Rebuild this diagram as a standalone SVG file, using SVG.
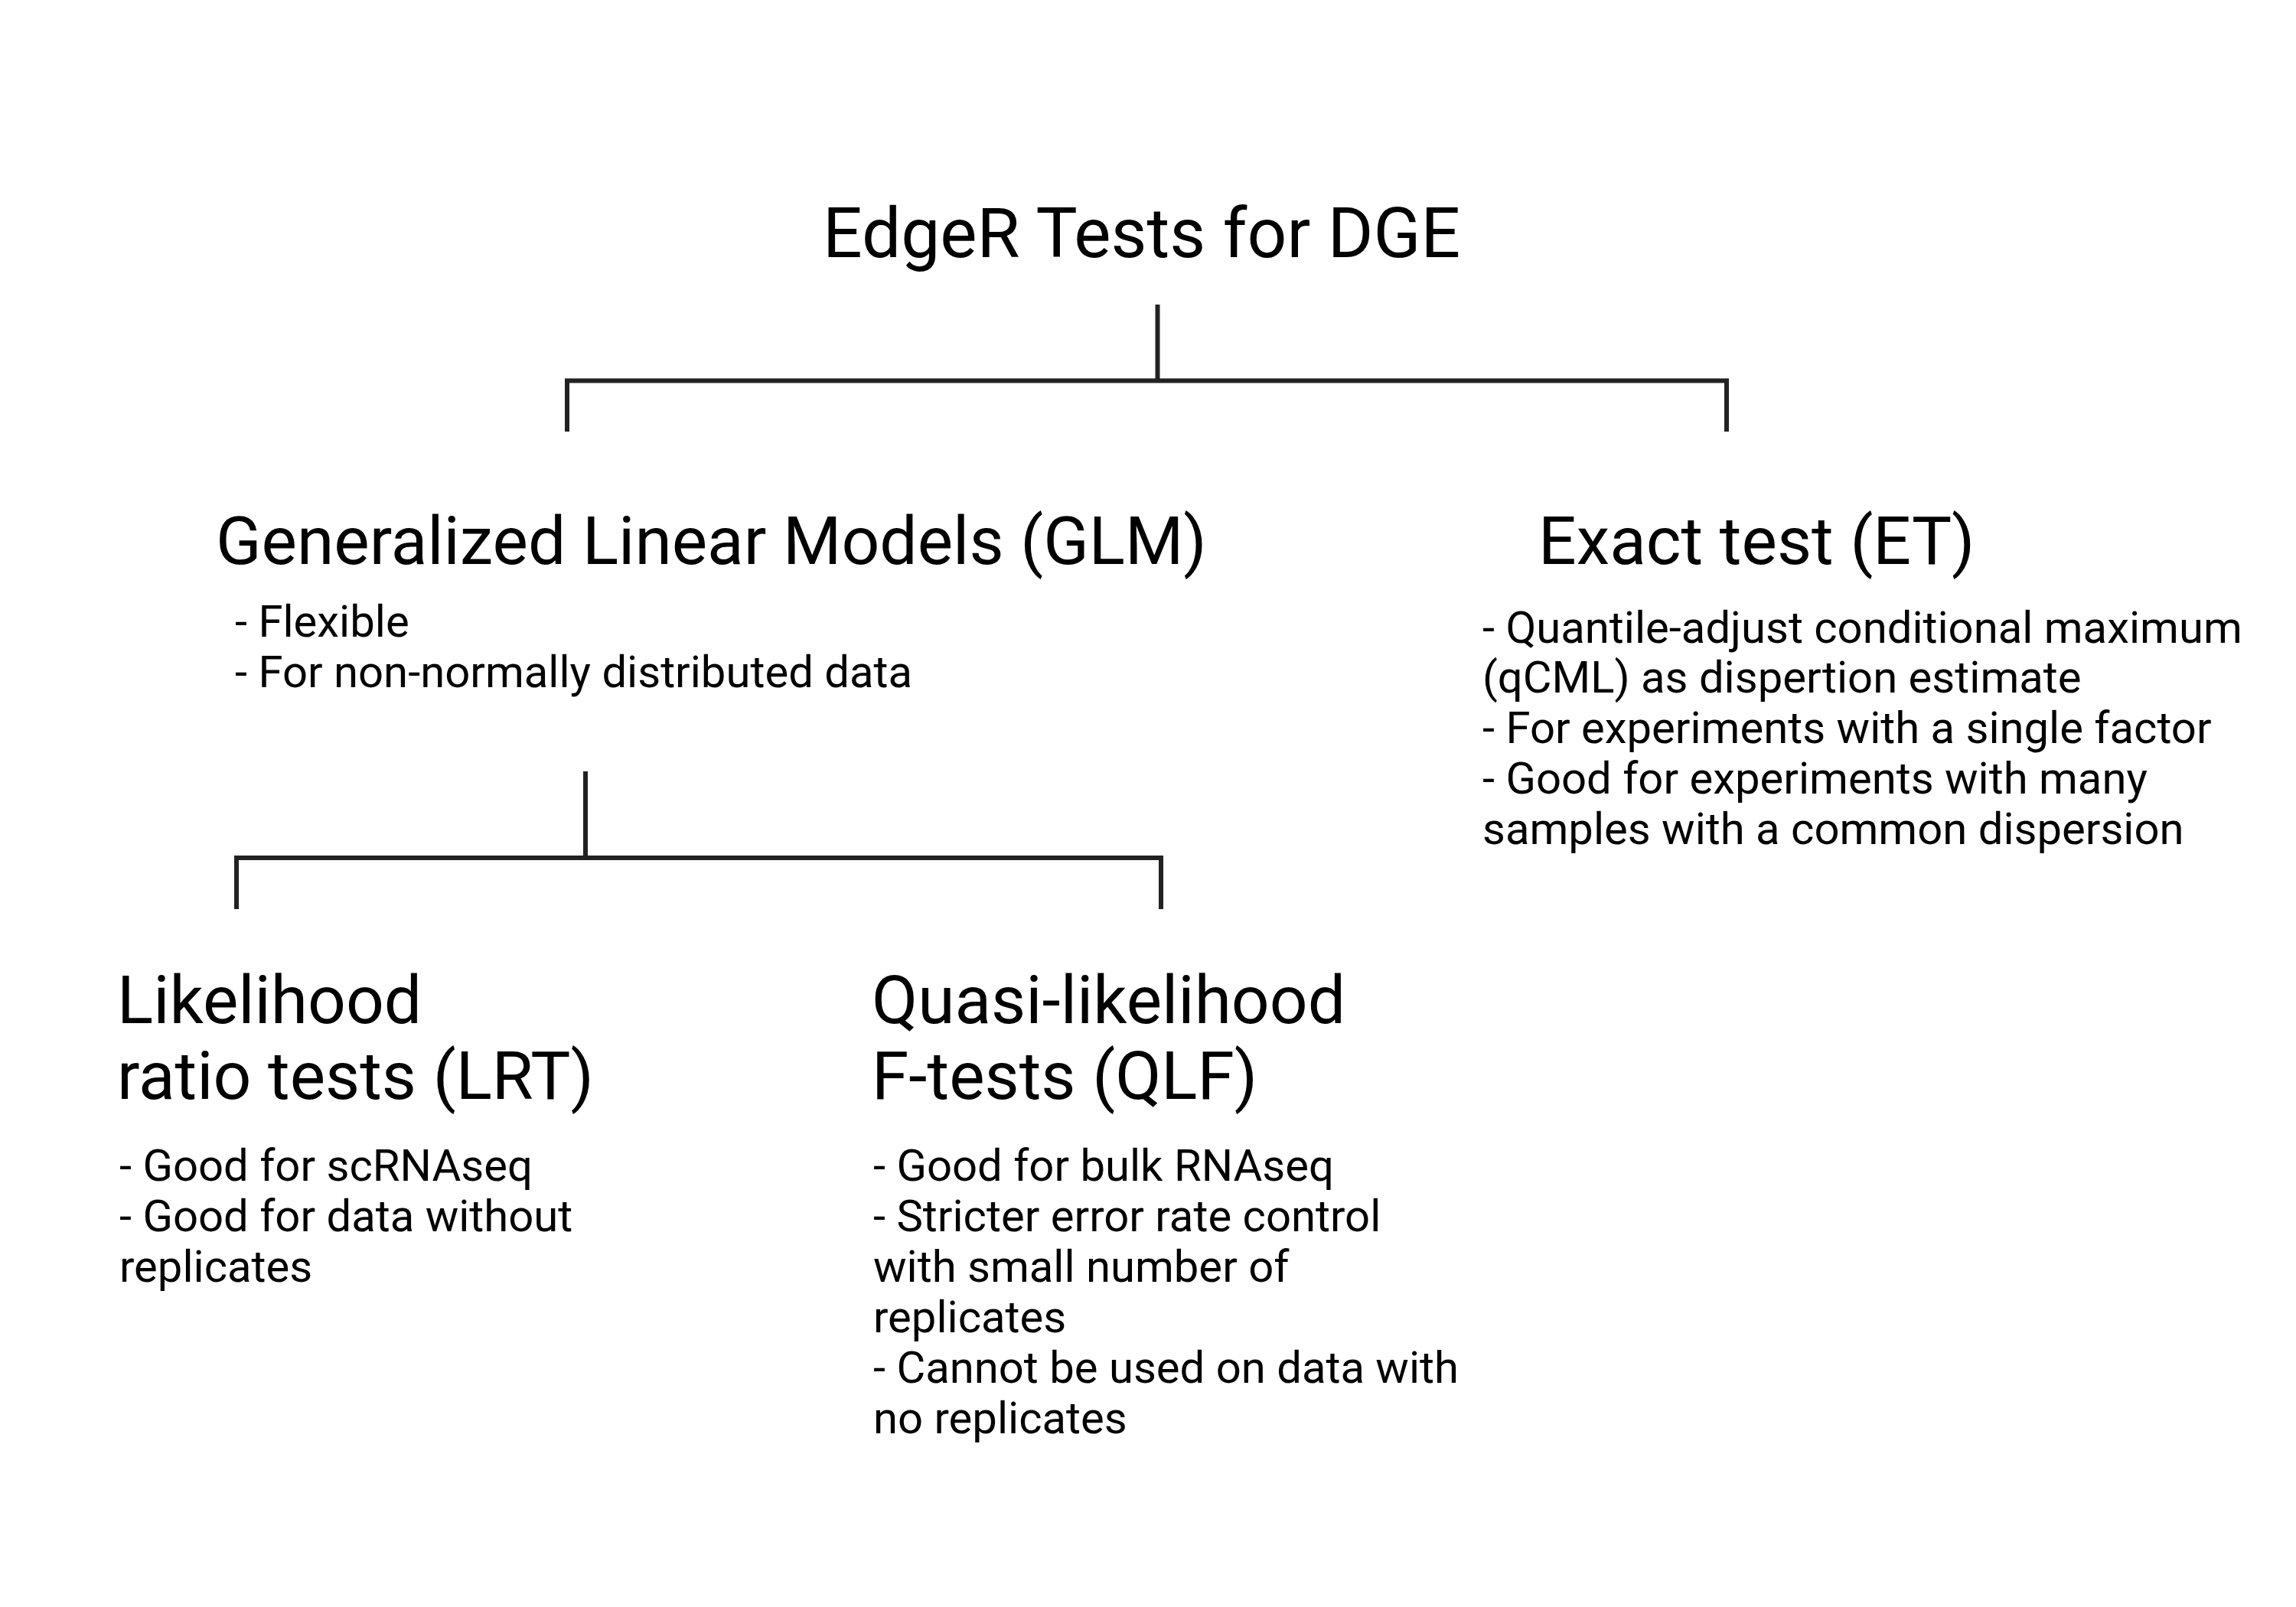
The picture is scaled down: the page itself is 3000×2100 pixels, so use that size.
<svg xmlns="http://www.w3.org/2000/svg" width="3000" height="2100" viewBox="0 0 3000 2100">
<style>
text{font-family:Roboto,"Liberation Sans",sans-serif;fill:#000}
.t{font-size:91px}
.h{font-size:87.5px}
.b{font-size:58px}
.c{stroke:#222;stroke-width:6;fill:none;stroke-linecap:butt;stroke-linejoin:miter}
</style>
<rect width="3000" height="2100" fill="#fff"/>
<g id="connectors">
<path class="c" d="M1512.5,398 V497"/>
<path class="c" d="M741,564 V497.5 H2256 V564"/>
<path class="c" d="M765,1008 V1121"/>
<path class="c" d="M309,1188 V1121 H1517 V1188"/>
</g>
<g id="root"><text class="t" x="1075" y="336">EdgeR Tests for DGE</text></g>
<g id="glm">
<text class="h" x="282" y="737">Generalized Linear Models (GLM)</text>
<text class="b" x="307" y="832">- Flexible</text>
<text class="b" x="307" y="898">- For non-normally distributed data</text>
</g>
<g id="et">
<text class="h" x="2010" y="737">Exact test (ET)</text>
<text class="b" x="1937"><tspan x="1937" y="840">- Quantile-adjust conditional maximum</tspan><tspan x="1937" y="905">(qCML) as dispertion estimate</tspan><tspan x="1937" y="971">- For experiments with a single factor</tspan><tspan x="1937" y="1037">- Good for experiments with many</tspan><tspan x="1937" y="1103">samples with a common dispersion</tspan></text>
</g>
<g id="lrt">
<text class="h" x="153"><tspan x="153" y="1337">Likelihood</tspan><tspan x="153" y="1436">ratio tests (LRT)</tspan></text>
<text class="b" x="156"><tspan x="156" y="1543">- Good for scRNAseq</tspan><tspan x="156" y="1609">- Good for data without</tspan><tspan x="156" y="1675">replicates</tspan></text>
</g>
<g id="qlf">
<text class="h" x="1139"><tspan x="1139" y="1337">Quasi-likelihood</tspan><tspan x="1139" y="1436">F-tests (QLF)</tspan></text>
<text class="b" x="1141"><tspan x="1141" y="1543">- Good for bulk RNAseq</tspan><tspan x="1141" y="1609">- Stricter error rate control</tspan><tspan x="1141" y="1675">with small number of</tspan><tspan x="1141" y="1741">replicates</tspan><tspan x="1141" y="1807">- Cannot be used on data with</tspan><tspan x="1141" y="1873">no replicates</tspan></text>
</g>
</svg>
